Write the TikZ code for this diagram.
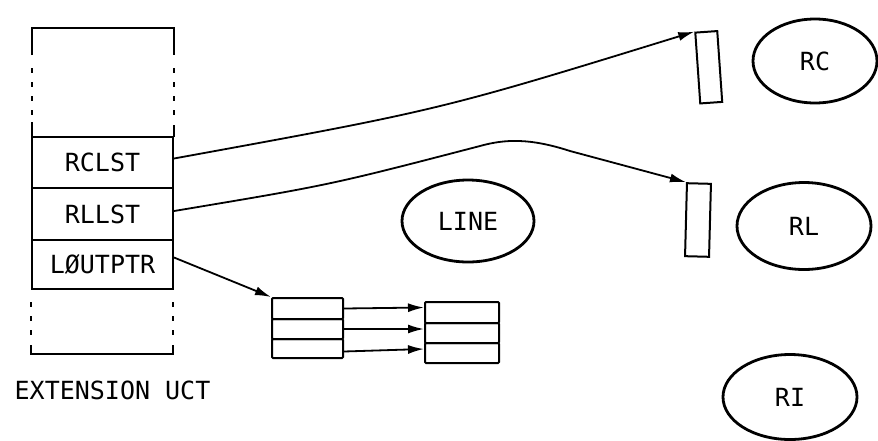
\documentclass[tikz,border=0pt]{standalone}
\usepackage{fontspec}
\setmonofont{DejaVu Sans Mono}
\usetikzlibrary{arrows.meta,calc,shapes.geometric}
\begin{document}
\begin{tikzpicture}[x=1pt,y=-1pt,
  lbl/.style={font=\ttfamily\fontsize{25}{27}\selectfont},
  frame/.style={line width=2pt},
  dashedframe/.style={line width=2pt,dash pattern=on 5pt off 9pt},
  row/.style={draw,line width=2pt,minimum width=141pt,inner sep=0pt,lbl},
  cell/.style={draw,line width=2pt,inner sep=0pt,rounded corners=1pt},
  oval/.style={draw,ellipse,line width=2.8pt,inner sep=0pt,lbl},
  slot/.style={draw,line width=2pt,inner sep=0pt,minimum width=22pt,minimum height=71pt},
  ptr/.style={line width=1.8pt,-{Latex[length=16pt,width=9pt]}}
]
\useasboundingbox (0,0) rectangle (878,440);

% extension UCT frame
\draw[frame] (32,55) -- (32,28) -- (174,28) -- (174,55);
\draw[dashedframe] (32,68) -- (32,122);
\draw[dashedframe] (174,68) -- (174,122);
\draw[frame] (32,122) -- (32,137);
\draw[frame] (174,125) -- (174,137);
\draw[dashedframe] (31,302) -- (31,338);
\draw[dashedframe] (173,302) -- (173,338);
\draw[frame] (31,345) -- (31,354) -- (173,354) -- (173,345);

\node[row,minimum height=51pt] (rclst) at (102.5,162.5) {RCLST};
\node[row,minimum height=52pt] (rllst) at (102.5,214) {RLLST};
\node[row,minimum height=49pt] (lout) at (102.5,264.5) {LØUTPTR};

\node[lbl] (ext) at (112.5,390) {EXTENSION UCT};

% small list boxes
\node[cell,minimum width=71pt,minimum height=21pt] (la) at (307.5,308.5) {};
\node[cell,minimum width=71pt,minimum height=20pt] (lb) at (307.5,329) {};
\node[cell,minimum width=71pt,minimum height=19pt] (lc) at (307.5,348.5) {};
\node[cell,minimum width=74pt,minimum height=21pt] (ra) at (462,312.5) {};
\node[cell,minimum width=74pt,minimum height=20pt] (rb) at (462,333) {};
\node[cell,minimum width=74pt,minimum height=20pt] (rc) at (462,353) {};

% tilted slots
\node[slot,rotate=4] (s1) at (708.75,67.25) {};
\node[slot,rotate=-1.5,minimum width=24pt,minimum height=73pt] (s2) at (698,220) {};

% ellipses
\node[oval,minimum width=124pt,minimum height=84pt] (rcn) at (815,61) {RC};
\node[oval,minimum width=134pt,minimum height=87pt] (rln) at (804,226) {RL};
\node[oval,minimum width=132pt,minimum height=82pt] (line) at (468,221) {LINE};
\node[oval,minimum width=134pt,minimum height=85pt] (ri) at (790,397) {RI};

% pointers
\draw[ptr] ($(rclst.east)+(0,-4)$) .. controls (440,110) .. (s1.north west);
\draw[ptr] ($(rllst.east)+(0,-3)$) .. controls (330,185) .. (480,146) .. controls (505,139) and (530,138) .. (570,151) -- (s2.north west);
\draw[ptr] ($(lout.east)+(0,-7)$) -- (la.north west);
\draw[ptr] (la.east) -- ($(ra.west)+(0,-5)$);
\draw[ptr] (lb.east) -- ($(rb.west)+(0,-4)$);
\draw[ptr] ($(lc.east)+(0,3)$) -- ($(rc.west)+(0,-4)$);
\end{tikzpicture}
\end{document}
